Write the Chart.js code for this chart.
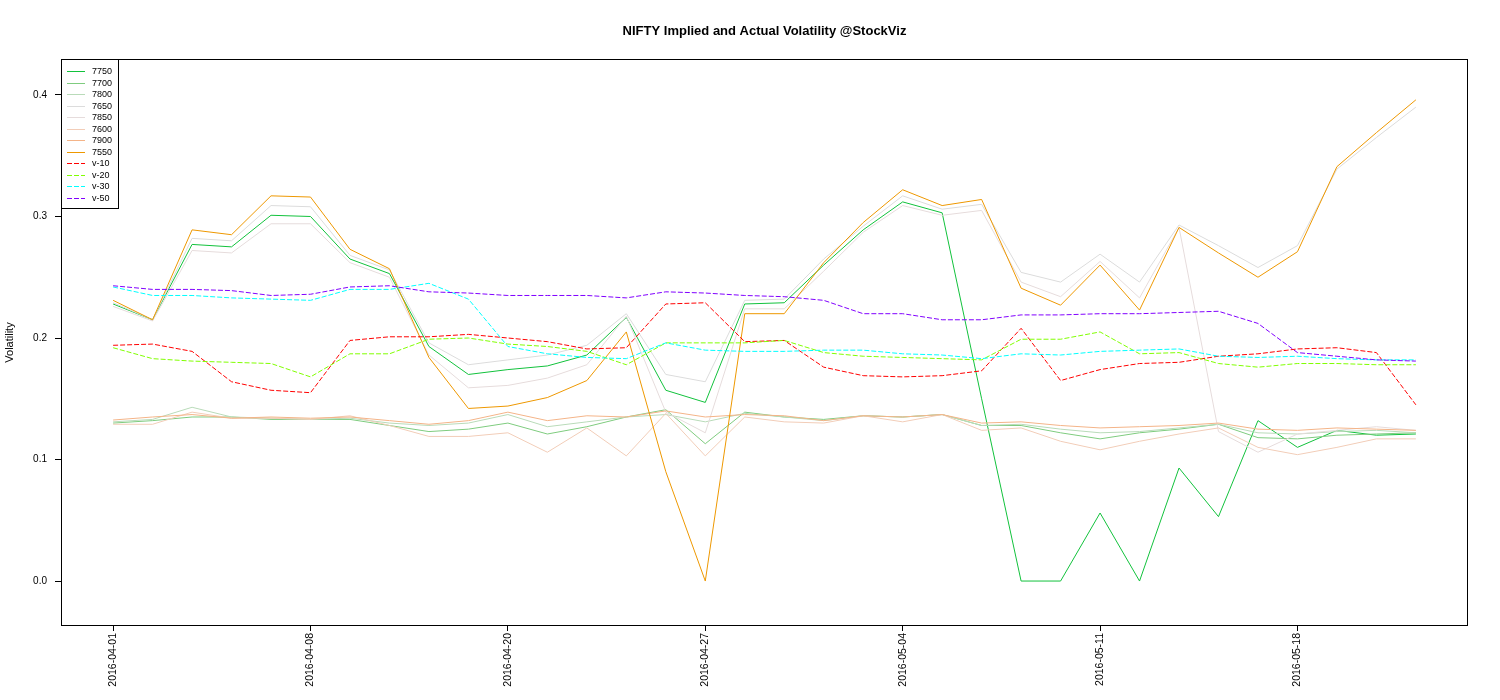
<!DOCTYPE html>
<html>
<head>
<meta charset="utf-8">
<script src="https://cdn.jsdelivr.net/npm/chart.js@4/dist/chart.umd.min.js"></script>
<style>
  body { margin: 0; background: #fff; }
  canvas { display: block; }
</style>
</head>
<body>
<canvas id="grafico" width="1500" height="700"></canvas>
<script>
const datas = ['2016-04-01','2016-04-04','2016-04-05','2016-04-06','2016-04-07','2016-04-08',
  '2016-04-11','2016-04-12','2016-04-13','2016-04-18','2016-04-20','2016-04-21','2016-04-22',
  '2016-04-25','2016-04-26','2016-04-27','2016-04-28','2016-04-29','2016-05-02','2016-05-03',
  '2016-05-04','2016-05-05','2016-05-06','2016-05-09','2016-05-10','2016-05-11','2016-05-12',
  '2016-05-13','2016-05-16','2016-05-17','2016-05-18','2016-05-19','2016-05-20','2016-05-23'];

const s7750 = [0.228,0.215,0.277,0.275,0.301,0.300,0.265,0.253,0.193,0.170,0.174,0.177,0.186,0.217,0.157,0.147,0.228,0.229,0.260,0.289,0.312,0.303,0.150,0,0,0.056,0,0.093,0.053,0.132,0.110,0.124,0.120,0.121];
const s7700 = [0.130,0.132,0.135,0.135,0.133,0.133,0.133,0.128,0.123,0.125,0.130,0.121,0.127,0.135,0.141,0.113,0.139,0.135,0.133,0.136,0.135,0.137,0.128,0.128,0.122,0.117,0.122,0.125,0.129,0.118,0.117,0.120,0.121,0.122];
const s7800 = [0.131,0.133,0.143,0.135,0.134,0.133,0.134,0.130,0.128,0.130,0.137,0.127,0.131,0.135,0.137,0.131,0.138,0.135,0.132,0.136,0.135,0.137,0.128,0.129,0.125,0.122,0.123,0.126,0.129,0.122,0.121,0.123,0.124,0.122];
const s7650 = [0.229,0.215,0.282,0.280,0.309,0.308,0.268,0.256,0.196,0.178,0.182,0.186,0.194,0.220,0.170,0.164,0.231,0.232,0.265,0.292,0.317,0.306,0.310,0.254,0.246,0.269,0.246,0.293,0.276,0.258,0.276,0.339,0.365,0.390];
const s7850 = [0.226,0.214,0.272,0.270,0.294,0.294,0.262,0.250,0.186,0.159,0.161,0.167,0.178,0.218,0.139,0.122,0.224,0.224,0.255,0.287,0.309,0.301,0.305,0.246,0.234,0.263,0.233,0.291,0.123,0.106,0.121,0.124,0.127,0.124];
const s7600 = [0.129,0.129,0.139,0.134,0.134,0.133,0.136,0.128,0.119,0.119,0.122,0.106,0.126,0.103,0.138,0.103,0.135,0.131,0.130,0.136,0.131,0.137,0.124,0.126,0.115,0.108,0.115,0.121,0.126,0.110,0.104,0.110,0.117,0.117];
const s7900 = [0.1325,0.135,0.137,0.134,0.135,0.134,0.135,0.132,0.129,0.132,0.139,0.132,0.136,0.135,0.140,0.135,0.137,0.136,0.132,0.136,0.135,0.137,0.130,0.131,0.128,0.126,0.127,0.128,0.130,0.125,0.124,0.126,0.125,0.124];
const s7550 = [0.231,0.215,0.289,0.285,0.317,0.316,0.273,0.257,0.184,0.142,0.144,0.151,0.165,0.205,0.090,0,0.220,0.220,0.262,0.295,0.322,0.309,0.314,0.241,0.227,0.260,0.223,0.291,0.270,0.250,0.271,0.341,0.369,0.396];
const v10 = [0.194,0.195,0.189,0.164,0.157,0.155,0.198,0.201,0.201,0.203,0.200,0.197,0.191,0.192,0.228,0.229,0.197,0.198,0.176,0.169,0.168,0.169,0.173,0.208,0.165,0.174,0.179,0.180,0.185,0.187,0.191,0.192,0.188,0.145];
const v20 = [0.192,0.183,0.181,0.180,0.179,0.168,0.187,0.187,0.199,0.200,0.195,0.193,0.189,0.178,0.196,0.196,0.196,0.198,0.188,0.185,0.184,0.183,0.182,0.199,0.199,0.205,0.187,0.188,0.179,0.176,0.179,0.179,0.178,0.178];
const v30 = [0.242,0.235,0.235,0.233,0.232,0.231,0.240,0.240,0.245,0.232,0.193,0.187,0.184,0.183,0.196,0.190,0.189,0.189,0.190,0.190,0.187,0.186,0.183,0.187,0.186,0.189,0.190,0.191,0.185,0.184,0.185,0.183,0.182,0.182];
const v50 = [0.243,0.240,0.240,0.239,0.235,0.236,0.242,0.243,0.238,0.237,0.235,0.235,0.235,0.233,0.238,0.237,0.235,0.234,0.231,0.220,0.220,0.215,0.215,0.219,0.219,0.220,0.220,0.221,0.222,0.212,0.188,0.185,0.182,0.181];

const nomes = ['7750','7700','7800','7650','7850','7600','7900','7550','v-10','v-20','v-30','v-50'];
const series = [s7750, s7700, s7800, s7650, s7850, s7600, s7900, s7550, v10, v20, v30, v50];
const cores = ['#12c23c','#7fcc7f','#b9dbb9','#dcdcdc','#e6dcdc','#f2cdb8','#f4b488','#ee9800',
  '#ff0000','#80ff00','#00ffff','#8000ff'];
const tracos = [[],[],[],[],[],[],[],[],[5,2],[5,2],[5,2],[5,2]];

const xTicks = [0, 5, 10, 15, 20, 25, 30];
const yTicks = [0, 0.1, 0.2, 0.3, 0.4];

const datasets = series.map((s, i) => ({
  label: nomes[i],
  data: s.map((v, j) => ({ x: j, y: v })),
  borderColor: cores[i],
  borderWidth: 1,
  borderDash: tracos[i],
  pointRadius: 0,
  tension: 0,
  fill: false,
  order: series.length - i
}));

const moldura = {
  id: 'moldura',
  afterDraw(chart) {
    const { ctx, chartArea: a } = chart;
    ctx.save();
    ctx.strokeStyle = '#000';
    ctx.lineWidth = 1;
    ctx.strokeRect(a.left + 0.5, a.top + 0.5, a.right - a.left - 1, a.bottom - a.top - 1);

    // titulo
    ctx.fillStyle = '#000';
    ctx.font = 'bold 13px "Liberation Sans", Arial, sans-serif';
    ctx.textAlign = 'center';
    ctx.textBaseline = 'middle';
    ctx.fillText('NIFTY Implied and Actual Volatility @StockViz', (a.left + a.right) / 2, 31);

    // titulo eixo y
    ctx.save();
    ctx.translate(10, (a.top + a.bottom) / 2);
    ctx.rotate(-Math.PI / 2);
    ctx.font = '11px "Liberation Sans", Arial, sans-serif';
    ctx.fillText('Volatility', 0, 0);
    ctx.restore();

    // legenda
    const lx = a.left + 0.5, ly = a.top + 0.5;
    ctx.fillStyle = '#fff';
    ctx.fillRect(lx, ly, 57, 149);
    ctx.strokeStyle = '#000';
    ctx.strokeRect(lx, ly, 57, 149);
    ctx.font = '9px "Liberation Sans", Arial, sans-serif';
    ctx.textAlign = 'left';
    nomes.forEach((n, i) => {
      const y = Math.round(a.top + 12 + i * 11.5);
      ctx.fillStyle = cores[i];
      if (tracos[i].length) {
        for (let x = a.left + 6; x < a.left + 24; x += 7) {
          ctx.fillRect(x, y, Math.min(5, a.left + 24 - x), 1);
        }
      } else {
        ctx.fillRect(a.left + 6, y, 18, 1);
      }
      ctx.fillStyle = '#000';
      ctx.fillText(n, a.left + 31, y + 0.5);
    });
    ctx.restore();
  }
};

new Chart(document.getElementById('grafico').getContext('2d'), {
  type: 'line',
  data: { datasets: datasets },
  options: {
    responsive: false,
    animation: false,
    devicePixelRatio: 1,
    layout: { padding: { top: 59, right: 32, left: 0, bottom: 0 } },
    plugins: { legend: { display: false }, tooltip: { enabled: false } },
    scales: {
      x: {
        type: 'linear',
        min: -1.32,
        max: 34.32,
        afterBuildTicks: s => { s.ticks = xTicks.map(v => ({ value: v })); },
        afterFit: s => { s.height = 74; },
        border: { display: false },
        grid: { drawOnChartArea: false, drawTicks: true, tickLength: 5, color: '#000' },
        ticks: {
          autoSkip: false,
          minRotation: 90,
          maxRotation: 90,
          padding: 2,
          color: '#000',
          font: { family: '"Liberation Sans", Arial, sans-serif', size: 10.5 },
          callback: v => datas[v]
        }
      },
      y: {
        min: -0.037,
        max: 0.4296,
        afterBuildTicks: s => { s.ticks = yTicks.map(v => ({ value: v })); },
        afterFit: s => { s.width = 61; },
        border: { display: false },
        grid: { drawOnChartArea: false, drawTicks: true, tickLength: 6, color: '#000' },
        ticks: {
          padding: 8,
          color: '#000',
          font: { family: '"Liberation Sans", Arial, sans-serif', size: 10 },
          callback: v => v.toFixed(1)
        }
      }
    }
  },
  plugins: [moldura]
});
</script>
</body>
</html>
